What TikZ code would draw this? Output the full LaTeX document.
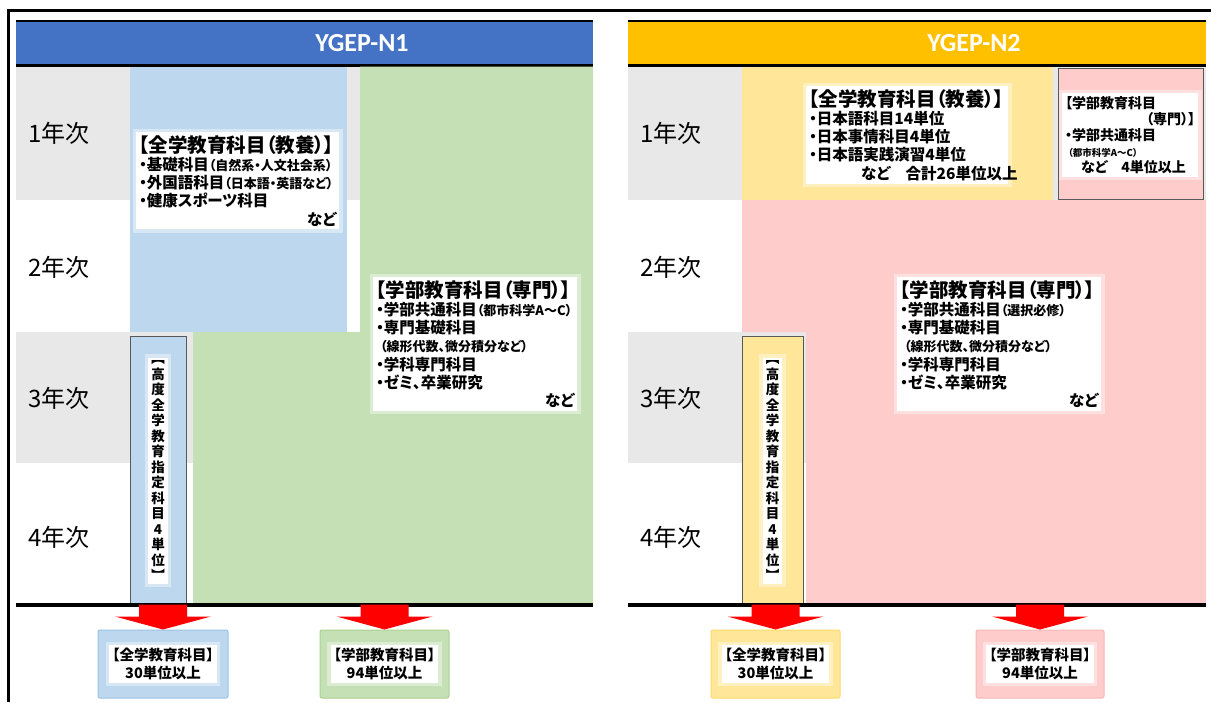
\documentclass[tikz,border=0pt]{standalone}
\usepackage{fontspec}
\setmainfont{Noto Sans CJK JP}[RawFeature=+palt]
\newfontfamily\headfont{Carlito}
\usepackage{xcolor}
\usepackage{tikz}
\usetikzlibrary{positioning}

\definecolor{n1blue}{HTML}{4472C4}
\definecolor{n2gold}{HTML}{FFC000}
\definecolor{rowgray}{HTML}{E8E8E8}
\definecolor{kyoblue}{HTML}{BDD7EE}
\definecolor{kyoblueline}{HTML}{9BC2E6}
\definecolor{sengreen}{HTML}{C5E0B4}
\definecolor{sengreenline}{HTML}{A9D18E}
\definecolor{kyoyellow}{HTML}{FFE699}
\definecolor{kyoyellowline}{HTML}{FFD966}
\definecolor{senpink}{HTML}{FFCCCC}
\definecolor{senpinkline}{HTML}{F4B8B8}
\definecolor{arrowred}{HTML}{FF0000}

\newcommand\sm[1]{{\fontsize{13}{18}\selectfont#1}}
\newcommand\rt[1]{\leavevmode\hbox to\hsize{\hfil#1}}
\newcommand\creditarrow[1]{%
  \fill[arrowred] (#1.north) -- ++(-48,-13) -- ++(24,0) -- ++(0,-12)
    -- ++(48,0) -- ++(0,12) -- ++(24,0) -- cycle;}

\tikzset{
  glow/.style={fill=white, inner sep=3pt,
    preaction={draw=white, line width=7pt, draw opacity=.4}},
  boxtext/.style={glow, anchor=north west, align=left,
    font=\bfseries\fontsize{15.5}{18.3}\selectfont},
  yearlabel/.style={anchor=west, font=\fontsize{24}{24}\selectfont},
  headtext/.style={text=white, font={\headfont\bfseries\fontsize{26}{26}\selectfont}},
  kodobox/.style={draw=black!65, line width=.8pt, minimum width=#1, minimum height=269, inner sep=0pt},
  kodotext/.style={glow, inner sep=3pt, align=center, font=\bfseries\fontsize{13.5}{15.5}\selectfont},
  creditbox/.style={rounded corners=2pt, line width=1pt, minimum height=68, inner sep=0pt},
  credittext/.style={glow, inner sep=3pt, align=center, font=\bfseries\fontsize{14.5}{18}\selectfont},
}

\begin{document}
\begin{tikzpicture}[x=1pt, y=-1pt]
		\useasboundingbox (0,0) rectangle (1211,702);
		\draw[line width=3pt] (8,702) -- (8,10) -- (1211,10);
		%
		% YGEP-N1
		\fill[rowgray] (16,66) rectangle (593,200);
		\fill[rowgray] (16,332) rectangle (593,463);
		\fill[n1blue] (16,21) rectangle (593,65);
		\draw[line width=2pt] (16,21) -- (593,21);
		\draw[line width=3pt] (16,65) -- (593,65);
		\node[headtext] (n1head) at (362,43) {YGEP-N1};
		\node[yearlabel] (n1y1) at (25,133) {1年次};
		\node[yearlabel] (n1y2) at (25,267) {2年次};
		\node[yearlabel] (n1y3) at (25,398) {3年次};
		\node[yearlabel] (n1y4) at (25,537) {4年次};
		\fill[kyoblue] (130,66.5) rectangle (347,332);
		\fill[sengreen] (360,66.5) -- (593,66.5) -- (593,605) -- (193,605) -- (193,332) -- (360,332) -- cycle;
		\node[kodobox=56, fill=kyoblue] (n1kodo) at (158,470.5) {};
		\node[kodotext] (n1kodotxt) at (n1kodo) {︻\\高\\度\\全\\学\\教\\育\\指\\定\\科\\目\\4\\単\\位\\︼};
		\node[boxtext, text width=197] (n1kyotxt) at (136,132) {%
			{\fontsize{19.5}{18.3}\selectfont 【全学教育科目（教養）】}\\
			・基礎科目\sm{（自然系・人文社会系）}\\
			・外国語科目\sm{（日本語・英語など）}\\
			・健康スポーツ科目\\
			\rt{など}};
		\node[boxtext, text width=198] (n1sentxt) at (373,277) {%
			{\fontsize{19.5}{18.3}\selectfont 【学部教育科目（専門）】}\\
			・学部共通科目\sm{（都市科学A～C）}\\
			・専門基礎科目\\
			\hspace*{4pt}\sm{（線形代数、微分積分など）}\\
			・学科専門科目\\
			・ゼミ、卒業研究\\
			\rt{など}};
		\draw[line width=4pt] (16,605) -- (593,605);
		\node[creditbox, fill=kyoblue, draw=kyoblueline, minimum width=130] (n1kyocr) at (163,664) {};
		\node[credittext] at (n1kyocr) {【全学教育科目】\\30単位以上};
		\node[creditbox, fill=sengreen, draw=sengreenline, minimum width=129] (n1sencr) at (384.5,664) {};
		\node[credittext] at (n1sencr) {【学部教育科目】\\94単位以上};
		\creditarrow{n1kyocr}
		\creditarrow{n1sencr}
		%
		% YGEP-N2
		\fill[rowgray] (628,66) rectangle (1206,200);
		\fill[rowgray] (628,332) rectangle (1206,463);
		\fill[n2gold] (628,21) rectangle (1206,65);
		\draw[line width=2pt] (628,21) -- (1206,21);
		\draw[line width=3pt] (628,65) -- (1206,65);
		\node[headtext] (n2head) at (974,43) {YGEP-N2};
		\node[yearlabel] (n2y1) at (637,133) {1年次};
		\node[yearlabel] (n2y2) at (637,267) {2年次};
		\node[yearlabel] (n2y3) at (637,398) {3年次};
		\node[yearlabel] (n2y4) at (637,537) {4年次};
		\fill[kyoyellow] (742,66.5) rectangle (1053,200);
		\fill[senpink] (742,200) -- (1206,200) -- (1206,605) -- (806,605) -- (806,332) -- (742,332) -- cycle;
		\draw[fill=senpink, draw=black!65, line width=.8pt] (1058,68) rectangle (1203,199);
		\node[kodobox=61, fill=kyoyellow] (n2kodo) at (772.5,470.5) {};
		\node[kodotext] (n2kodotxt) at (n2kodo) {︻\\高\\度\\全\\学\\教\\育\\指\\定\\科\\目\\4\\単\\位\\︼};
		\node[boxtext, text width=196] (n2kyotxt) at (806,86) {%
			{\fontsize{19.5}{18.3}\selectfont 【全学教育科目（教養）】}\\
			・日本語科目14単位\\
			・日本事情科目4単位\\
			・日本語実践演習4単位\\
			\hspace*{52pt}など　合計26単位以上};
		\node[boxtext, text width=130, font=\bfseries\fontsize{14}{16}\selectfont] (n2sen1txt) at (1062,93) {%
			【学部教育科目\\
			\rt{（専門）】}\\
			・学部共通科目\\
			\hspace*{3pt}{\fontsize{9.5}{14}\selectfont （都市科学A～C）}\\
			\hspace*{16pt}など　4単位以上};
		\node[boxtext, text width=198] (n2sentxt) at (897,277) {%
			{\fontsize{19.5}{18.3}\selectfont 【学部教育科目（専門）】}\\
			・学部共通科目\sm{（選択必修）}\\
			・専門基礎科目\\
			\hspace*{4pt}\sm{（線形代数、微分積分など）}\\
			・学科専門科目\\
			・ゼミ、卒業研究\\
			\rt{など}};
		\draw[line width=4pt] (628,605) -- (1206,605);
		\node[creditbox, fill=kyoyellow, draw=kyoyellowline, minimum width=129] (n2kyocr) at (775.5,664) {};
		\node[credittext] at (n2kyocr) {【全学教育科目】\\30単位以上};
		\node[creditbox, fill=senpink, draw=senpinkline, minimum width=128] (n2sencr) at (1040,664) {};
		\node[credittext] at (n2sencr) {【学部教育科目】\\94単位以上};
		\creditarrow{n2kyocr}
		\creditarrow{n2sencr}
	\end{tikzpicture}
\end{document}
